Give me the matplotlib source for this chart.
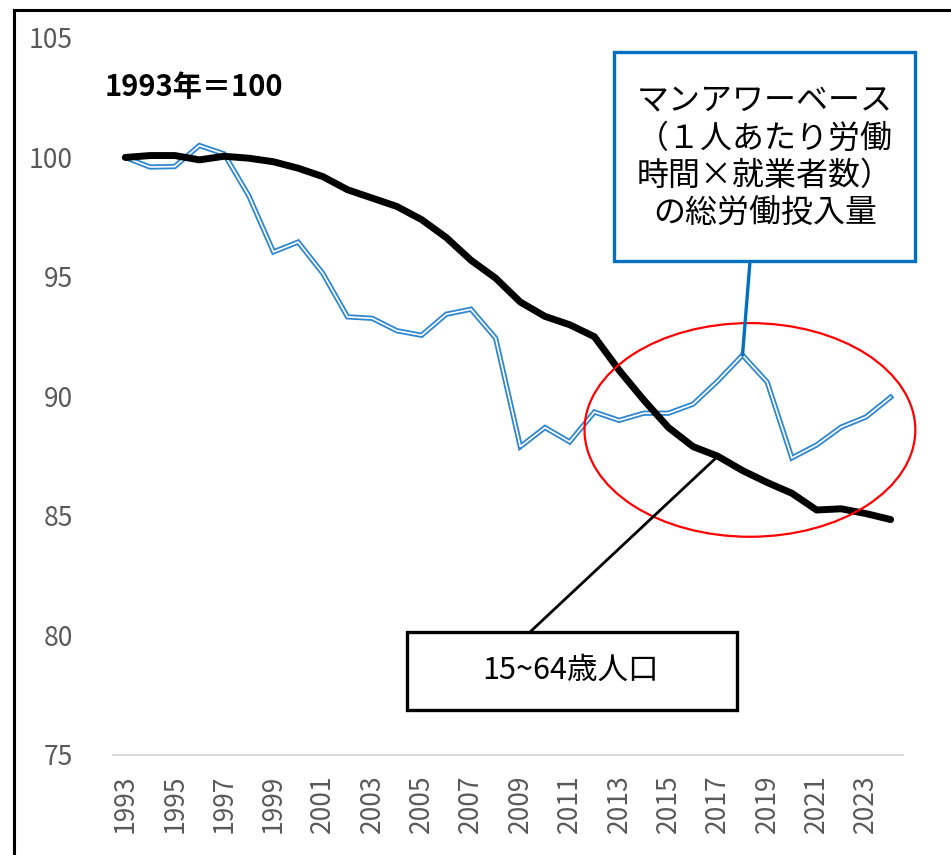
import matplotlib
matplotlib.use('Agg')
import matplotlib.pyplot as plt
from matplotlib.patches import Ellipse, Rectangle
from matplotlib.lines import Line2D

plt.rcParams['font.family'] = ['Noto Sans CJK JP', 'DejaVu Sans']

# Data (1993 = 100)
years = list(range(1993, 2025))
working_age = [100.0, 100.08, 100.08, 99.9, 100.05, 99.97, 99.82, 99.55, 99.2, 98.65,
               98.3, 97.95, 97.4, 96.65, 95.7, 94.95, 93.95, 93.35, 93.0, 92.5,
               91.1, 89.85, 88.7, 87.9, 87.5, 86.9, 86.4, 85.95, 85.25, 85.3,
               85.1, 84.85]
man_hours = [100.0, 99.6, 99.62, 100.5, 100.15, 98.4, 96.05, 96.46, 95.15, 93.33,
             93.27, 92.75, 92.56, 93.44, 93.65, 92.44, 87.9, 88.7, 88.1, 89.35,
             89.0, 89.3, 89.3, 89.68, 90.65, 91.73, 90.6, 87.43, 87.97, 88.72,
             89.14, 89.97]
tick_years = list(range(1993, 2025, 2))
y_ticks = [75, 80, 85, 90, 95, 100, 105]

fig = plt.figure(figsize=(9.51, 8.55), dpi=100)
ax = fig.add_axes([0.1188, 0.117, 0.8307, 0.8386])

# man-hour series drawn as a double line
ax.plot(years, man_hours, color='#2F87CF', lw=3.8, solid_joinstyle='miter', zorder=3)
ax.plot(years, man_hours, color='white', lw=1.2, solid_joinstyle='miter', zorder=4)
ax.plot(years, working_age, color='black', lw=5, solid_capstyle='round', zorder=5)

ax.set_xlim(1992.5, 2024.5)
ax.set_ylim(75, 105)
ax.set_yticks(y_ticks)
ax.set_xticks(tick_years)
ax.set_xticklabels([str(y) for y in tick_years], rotation=90)
ax.tick_params(axis='both', length=0, colors='#595959', labelsize=19)
ax.tick_params(axis='y', pad=29)
ax.tick_params(axis='x', pad=14)
for s in ['top', 'right', 'left']:
    ax.spines[s].set_visible(False)
ax.spines['bottom'].set_color('#D9D9D9')
ax.spines['bottom'].set_linewidth(1.5)

# red circle around recent years
ax.add_patch(Ellipse((2018.3, 88.6), 13.4, 8.94, fill=False, edgecolor='red',
                     lw=1.6, clip_on=False, zorder=6))

ax.text(0.1104, 0.8982, '1993年＝100', transform=fig.transFigure, fontsize=21,
        fontweight='bold', va='center', ha='left')

# callout boxes
fig.add_artist(Rectangle((0.6456, 0.6947), 0.3165, 0.2445, transform=fig.transFigure,
                         facecolor='white', edgecolor='#0070C0', lw=2.4, zorder=7))
fig.text(0.8044, 0.8164, 'マンアワーベース\n（１人あたり労働\n時間×就業者数）\nの総労働投入量',
         fontsize=23, ha='center', va='center', multialignment='center',
         linespacing=1.2, zorder=8)
ax.annotate('', xy=(2018, man_hours[years.index(2018)]), xytext=(0.7886, 0.6936),
            textcoords='figure fraction',
            arrowprops=dict(arrowstyle='-', color='#0070C0', lw=2.4,
                            shrinkA=0, shrinkB=0), zorder=7)

fig.add_artist(Rectangle((0.428, 0.1696), 0.347, 0.0912, transform=fig.transFigure,
                         facecolor='white', edgecolor='black', lw=2.4, zorder=7))
fig.text(0.6004, 0.2164, '15~64歳人口', fontsize=22, ha='center', va='center', zorder=8)
ax.annotate('', xy=(2017, working_age[years.index(2017)]), xytext=(0.5573, 0.2608),
            textcoords='figure fraction',
            arrowprops=dict(arrowstyle='-', color='black', lw=2,
                            shrinkA=0, shrinkB=0), zorder=7)

# outer frame (left and top edges)
fig.add_artist(Line2D([0.0147, 0.0147], [0, 0.9883], color='black', lw=2.2))
fig.add_artist(Line2D([0.0147, 1], [0.9883, 0.9883], color='black', lw=2.2))

plt.savefig('out.png', dpi=100)
